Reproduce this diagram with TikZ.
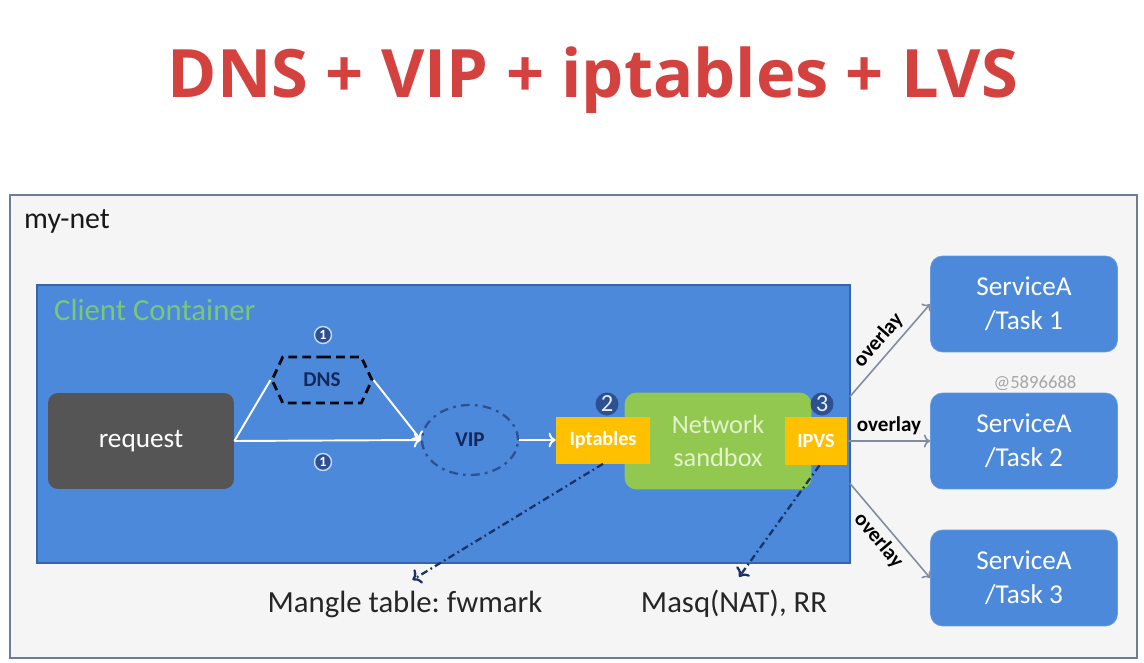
\documentclass[tikz,border=0pt]{standalone}
\usepackage{fontspec}
\setmainfont{Carlito}
\newfontfamily\titlefont{Open Sans}
\usetikzlibrary{shapes.geometric,shapes.symbols,arrows.meta}
\frenchspacing

\definecolor{titlered}{RGB}{212,66,64}
\definecolor{netfill}{RGB}{245,245,245}
\definecolor{netdraw}{RGB}{110,125,150}
\definecolor{boxblue}{RGB}{76,137,218}
\definecolor{boxedge}{RGB}{55,100,170}
\definecolor{reqgray}{RGB}{85,85,85}
\definecolor{ipsorange}{RGB}{255,192,0}
\definecolor{sandgreen}{RGB}{146,200,80}
\definecolor{sandtext}{RGB}{225,242,205}
\definecolor{ccgreen}{RGB}{120,200,120}
\definecolor{navy}{RGB}{20,40,90}
\definecolor{stepblue}{RGB}{45,80,145}
\definecolor{ovlgray}{RGB}{130,140,160}

\tikzset{
  bluebox/.style={fill=boxblue, draw=boxblue!85!white, rounded corners=0.24cm,
    minimum width=3.74cm, minimum height=1.92cm, text=white, align=center,
    font=\fontsize{15.5}{19.5}\selectfont},
  orangebox/.style={fill=ipsorange, text=white, inner sep=0pt,
    font=\fontsize{11.5}{13}\selectfont\bfseries},
  stepnum/.style={circle, fill=stepblue, text=white!85!boxblue, inner sep=0pt,
    minimum size=0.46cm, font=\fontsize{14}{14}\selectfont},
  smallnum/.style={circle, fill=stepblue, draw=white!70!boxblue, line width=0.8pt,
    text=white, inner sep=0pt, minimum size=0.34cm, font=\fontsize{8}{8}\selectfont\bfseries},
  wline/.style={white, line width=1.1pt},
  ovl/.style={ovlgray, line width=0.9pt, ->},
  ovllabel/.style={font=\fontsize{12}{12}\selectfont\bfseries, text=black, inner sep=3pt},
  markline/.style={navy!75!stepblue, line width=1.3pt,
    dash pattern=on 4pt off 2pt on 1pt off 2pt, ->},
  notelabel/.style={font=\fontsize{17.5}{19}\selectfont, text=black!85},
}

\begin{document}
\begin{tikzpicture}[x=0.02cm, y=-0.02cm]
  \useasboundingbox[fill=white] (0,0) rectangle (1144,663);

  % title
  \node[anchor=base, text=titlered, font=\titlefont\bfseries\fontsize{38}{40}\selectfont]
    (title) at (593,97) {DNS + VIP + iptables + LVS};

  % overlay network and client container
  \draw[fill=netfill, draw=netdraw, line width=0.8pt] (10,195) rectangle (1137,658);
  \node[anchor=west, font=\fontsize{17}{19}\selectfont, text=black!90] (mynet) at (18,221) {my-net};
  \draw[fill=boxblue, draw=boxedge, line width=0.6pt] (37,285) rectangle (850,563);
  \node[anchor=west, font=\fontsize{17.5}{19}\selectfont, text=ccgreen] (client) at (48,310) {Client Container};

  \node[fill=reqgray, rounded corners=0.2cm, minimum width=3.72cm, minimum height=1.92cm,
    text=white, font=\fontsize{15.5}{17}\selectfont] (req) at (141,441) {request};
  \node[signal, signal to=west and east, signal pointer angle=130, draw=black!85!navy,
    dash pattern=on 5pt off 3pt, line width=1.6pt, minimum width=2cm, minimum height=0.92cm,
    inner sep=0pt, text=navy, font=\fontsize{12}{12}\selectfont\bfseries] (dns) at (322,380) {DNS};
  \node[ellipse, draw=stepblue, dash pattern=on 5pt off 3pt on 1.5pt off 3pt, line width=1.3pt,
    minimum width=1.92cm, minimum height=1.4cm, text=navy,
    font=\fontsize{12}{12}\selectfont\bfseries] (vip) at (470,440) {VIP};

  \node[smallnum] (onea) at (323,335) {1};
  \node[smallnum] (oneb) at (323,462) {1};

  % network sandbox with iptables and ipvs
  \node[fill=sandgreen, rounded corners=0.24cm, minimum width=3.74cm, minimum height=1.94cm,
    text=sandtext, align=center, font=\fontsize{15}{19}\selectfont] (sandbox) at (718,441) {Network\\sandbox};
  \node[orangebox, minimum width=1.88cm, minimum height=0.94cm] (ipt) at (603,440) {Iptables};
  \node[orangebox, minimum width=1.26cm, minimum height=0.96cm] (ipvs) at (816,441) {IPVS};
  \node[stepnum] (two) at (607,404) {2};
  \node[stepnum] (three) at (822,404) {3};

  \draw[wline] (req.east) -- (dns.west);
  \draw[wline,->] (dns.east) -- (vip.west);
  \draw[wline,->] (req.east) -- (vip.west);
  \draw[wline,->] (vip.east) -- (ipt.west);

  % tasks
  \node[bluebox] (task1) at (1024,304) {ServiceA\\/Task 1};
  \node[bluebox] (task2) at (1024,441) {ServiceA\\/Task 2};
  \node[bluebox] (task3) at (1024,578) {ServiceA\\/Task 3};
  \node[text=black!35, font=\fontsize{10.6}{11}\selectfont] (wmark) at (1035,383) {@5896688};

  \draw[ovl] ([shift={(2,-20)}]ipvs.north east) -- node[sloped, above, ovllabel] {overlay} (task1.west);
  \draw[ovl] (ipvs.east) -- node[above, ovllabel] {overlay} (task2.west);
  \draw[ovl] ([shift={(2,18)}]ipvs.south east) -- node[sloped, below, ovllabel] {overlay} (task3.west);

  % notes
  \node[notelabel] (mangle) at (405,604) {Mangle table: fwmark};
  \node[notelabel] (masq) at (734,604) {Masq(NAT), RR};
  \draw[markline, shorten >=5pt] (ipt.south) -- (mangle.north);
  \draw[markline, shorten >=5pt] ([xshift=2pt]ipvs.south) -- (masq.north);
\end{tikzpicture}
\end{document}
